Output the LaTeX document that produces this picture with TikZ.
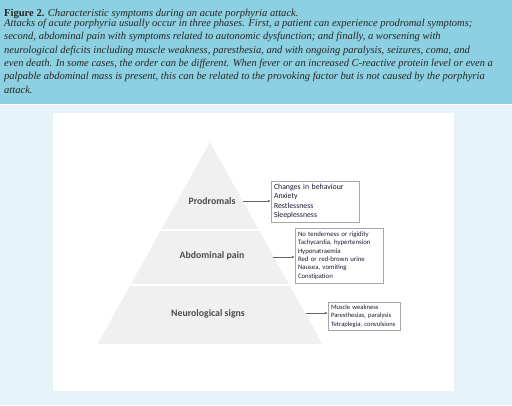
\documentclass[tikz,border=0pt]{standalone}
\usepackage{fontspec}
\setmainfont{Liberation Serif}
\newfontfamily\labfont{Carlito}
\usetikzlibrary{arrows.meta}
\definecolor{capband}{HTML}{8DD0E2}
\definecolor{lightband}{HTML}{E5F2F9}
\definecolor{pyrfill}{HTML}{F0F0F0}
\definecolor{labgray}{HTML}{4C4C4C}
\definecolor{boxtext}{HTML}{1A1A33}
\definecolor{boxline}{HTML}{A8A8A8}
\begin{document}
\begin{tikzpicture}[x=1pt,y=-1pt,
  capline/.style={anchor=base west,inner sep=0pt,font=\fontsize{10.55}{12}\selectfont\itshape,text=black!85},
  tierlabel/.style={inner sep=0pt,font=\labfont\bfseries\fontsize{9.8}{11}\selectfont,text=labgray},
  symbox/.style={draw=boxline,line width=0.8pt,fill=white,align=left,inner xsep=3pt,inner ysep=0pt,text=boxtext,anchor=center},
  conn/.style={draw=gray!80!black,line width=0.6pt,-{Stealth[length=3pt,width=2.4pt]}}]
\useasboundingbox (0,0) rectangle (512,405);
% backgrounds
\fill[lightband] (0,105) rectangle (512,405);
\fill[capband] (0,0) rectangle (512,104);
\fill[white] (53,113) rectangle (454,391);
% caption
\node[capline] (c1) at (4,16) {\upshape\bfseries Figure 2.\mdseries\itshape{} Characteristic symptoms during an acute porphyria attack.};
\node[capline] (c2) at (4,26.5) {Attacks of acute porphyria usually occur in three phases. First, a patient can experience prodromal symptoms;};
\node[capline] (c3) at (4,39.8) {second, abdominal pain with symptoms related to autonomic dysfunction; and finally, a worsening with};
\node[capline] (c4) at (4,53.1) {neurological deficits including muscle weakness, paresthesia, and with ongoing paralysis, seizures, coma, and};
\node[capline] (c5) at (4,66.4) {even death. In some cases, the order can be different. When fever or an increased C-reactive protein level or even a};
\node[capline] (c6) at (4,79.7) {palpable abdominal mass is present, this can be related to the provoking factor but is not caused by the porphyria};
\node[capline] (c7) at (4,93) {attack.};
% pyramid
\begin{scope}
\clip (210,142) -- (322.5,344) -- (97.5,344) -- cycle;
\fill[pyrfill] (210,142) -- (322.5,344) -- (97.5,344) -- cycle;
\draw[white,line width=2pt] (90,230) -- (330,230);
\draw[white,line width=2pt] (90,285) -- (330,285);
\end{scope}
% tier labels
\node[tierlabel] (prod) at (212,201) {Prodromals};
\node[tierlabel] (abd) at (212,256) {Abdominal pain};
\node[tierlabel] (neuro) at (208,314) {Neurological signs};
% symptom boxes
\node[symbox,minimum width=88pt,minimum height=41pt,text width=82pt,font=\labfont\fontsize{7.8}{9.3}\selectfont] (b1) at (315,201.5)
  {Changes in behaviour\\Anxiety\\Restlessness\\Sleeplessness};
\node[symbox,minimum width=88pt,minimum height=55pt,text width=82pt,font=\labfont\fontsize{6.8}{8.4}\selectfont] (b2) at (339,255.5)
  {No tenderness or rigidity\\Tachycardia, hypertension\\Hyponatraemia\\Red or red-brown urine\\Nausea, vomiting\\Constipation};
\node[symbox,minimum width=72pt,minimum height=28pt,text width=66pt,font=\labfont\fontsize{6.6}{8.5}\selectfont] (b3) at (364,316)
  {Muscle weakness\\Paresthesias, paralysis\\Tetraplegia, convulsions};
% connectors
\coordinate (s1) at (243,201);
\coordinate (s2) at (273,257);
\coordinate (s3) at (306,313);
\draw[conn] (s1) -- (b1.west |- s1);
\draw[conn] (s2) -- (b2.west |- s2);
\draw[conn] (s3) -- (b3.west |- s3);
\end{tikzpicture}
\end{document}
